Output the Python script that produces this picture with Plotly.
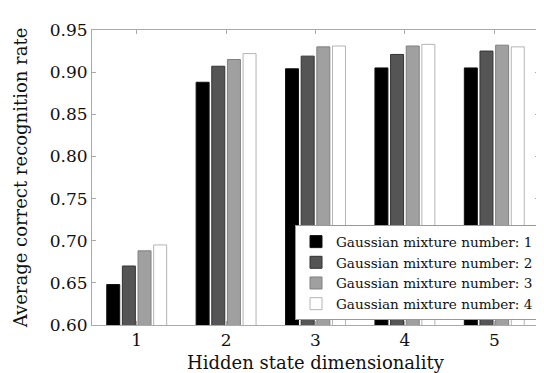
import plotly.graph_objects as go

categories = ["1", "2", "3", "4", "5"]
series_names = [
    "Gaussian mixture number: 1",
    "Gaussian mixture number: 2",
    "Gaussian mixture number: 3",
    "Gaussian mixture number: 4",
]
values_m1 = [0.648, 0.888, 0.904, 0.905, 0.905]
values_m2 = [0.670, 0.907, 0.919, 0.921, 0.925]
values_m3 = [0.688, 0.915, 0.930, 0.931, 0.932]
values_m4 = [0.695, 0.922, 0.931, 0.933, 0.930]
y_ticks = [0.60, 0.65, 0.70, 0.75, 0.80, 0.85, 0.90, 0.95]

fills = ["#000000", "#555555", "#a0a0a0", "#ffffff"]
edges = ["#111111", "#333333", "#808080", "#b4b4b4"]

FONT = "DejaVu Serif"
fig = go.Figure()
for name, vals, fc, ec in zip(series_names, [values_m1, values_m2, values_m3, values_m4], fills, edges):
    fig.add_trace(go.Bar(
        x=categories, y=vals, name=name,
        marker=dict(color=fc, line=dict(color=ec, width=1)),
    ))

fig.update_layout(
    width=544, height=373,
    margin=dict(l=84, r=12, t=12, b=53),
    paper_bgcolor="white", plot_bgcolor="white",
    barmode="group", bargap=0.3, bargroupgap=0.17,
    font=dict(family=FONT, color="#111111", size=17),
    showlegend=True,
    legend=dict(
        x=1, xanchor="right", y=0.016, yanchor="bottom",
        bgcolor="white", bordercolor="#999999", borderwidth=1,
        font=dict(family=FONT, size=13.6, color="#111111"),
        tracegroupgap=0, itemwidth=30,
    ),
)
fig.update_xaxes(
    type="category", range=[-0.5, 4.5],
    showline=True, linecolor="#aaaaaa", linewidth=1, mirror="ticks",
    ticks="inside", ticklen=4, tickcolor="#aaaaaa",
    showgrid=False, zeroline=False,
    tickfont=dict(size=17),
    title=dict(text="Hidden state dimensionality", font=dict(size=18), standoff=6),
)
fig.update_yaxes(
    range=[0.60, 0.95], tickvals=y_ticks, tickformat=".2f",
    showline=True, linecolor="#aaaaaa", linewidth=1, mirror="ticks",
    ticks="inside", ticklen=4, tickcolor="#aaaaaa",
    showgrid=False, zeroline=False,
    tickfont=dict(size=17),
    title=dict(text="Average correct recognition rate", font=dict(size=18), standoff=17),
)

fig.write_html("out.html")
